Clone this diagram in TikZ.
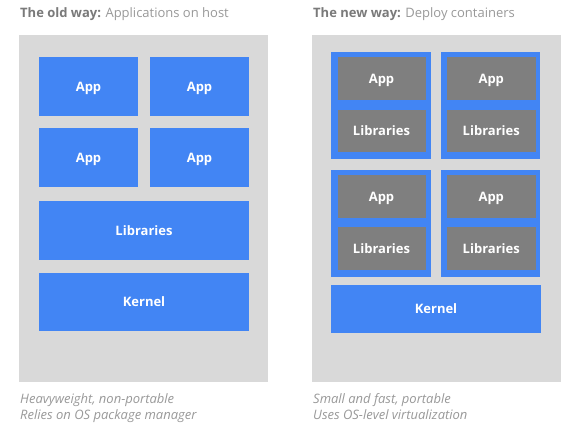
\documentclass[tikz,border=0pt]{standalone}
\usepackage{fontspec}
\setmainfont{Open Sans}
\definecolor{gblue}{HTML}{4285F4}
\definecolor{dgray}{HTML}{7F7F7F}
\definecolor{pgray}{HTML}{D9D9D9}
\definecolor{hbold}{HTML}{7A7A7A}
\definecolor{hreg}{HTML}{999999}
\definecolor{capt}{HTML}{999999}
\tikzset{
  panel/.style={fill=pgray, draw=none, inner sep=0pt},
  lbl/.style={inner sep=0pt, text=white, text height=9.3bp, text depth=0pt, font=\fontsize{13bp}{15bp}\selectfont\bfseries},
  bluebox/.style={lbl, fill=gblue, draw=none},
  graybox/.style={lbl, fill=dgray, draw=none},
  cont/.style={fill=gblue, draw=none, inner sep=0pt},
  head/.style={anchor=base west, inner sep=0pt, font=\fontsize{13bp}{15bp}\selectfont},
  capline/.style={anchor=base west, inner sep=0pt, text=capt, font=\fontsize{13bp}{15bp}\selectfont\itshape},
}
\begin{document}
\begin{tikzpicture}[x=1bp, y=-1bp]
\useasboundingbox (0,0) rectangle (575,442);
\fill[white] (0,0) rectangle (575,442);
% headers
\node[head] (hL) at (20,18) {\textcolor{hbold}{\bfseries The old way:} \textcolor{hreg}{Applications on host}};
\node[head] (hR) at (313,18) {\textcolor{hbold}{\bfseries The new way:} \textcolor{hreg}{Deploy containers}};
% left panel
\node[panel, minimum width=249bp, minimum height=347bp] (panelL) at (143.5,208.5) {};
\node[bluebox, minimum width=99bp, minimum height=59bp] (appL1) at (88.5,86.5) {App};
\node[bluebox, minimum width=99bp, minimum height=59bp] (appL2) at (199.5,86.5) {App};
\node[bluebox, minimum width=99bp, minimum height=59bp] (appL3) at (88.5,158) {App};
\node[bluebox, minimum width=99bp, minimum height=59bp] (appL4) at (199.5,158) {App};
\node[bluebox, minimum width=210bp, minimum height=59bp] (libL) at (144,230.5) {Libraries};
\node[bluebox, minimum width=210bp, minimum height=58.5bp] (kerL) at (144,302) {Kernel};
% right panel
\node[panel, minimum width=249bp, minimum height=347bp] (panelR) at (436.5,208.5) {};
\node[cont, minimum width=99.5bp, minimum height=107bp] (contA) at (380.75,106) {};
\node[cont, minimum width=99.5bp, minimum height=107bp] (contB) at (490.25,106) {};
\node[cont, minimum width=99.5bp, minimum height=107bp] (contC) at (380.75,223.5) {};
\node[cont, minimum width=99.5bp, minimum height=107bp] (contD) at (490.25,223.5) {};
\node[graybox, minimum width=88bp, minimum height=43bp] (appA) at (381.5,79) {App};
\node[graybox, minimum width=88bp, minimum height=42.5bp] (libA) at (381.5,131.25) {Libraries};
\node[graybox, minimum width=88.5bp, minimum height=43bp] (appB) at (491.25,79) {App};
\node[graybox, minimum width=88.5bp, minimum height=42.5bp] (libB) at (491.25,131.25) {Libraries};
\node[graybox, minimum width=88bp, minimum height=43bp] (appC) at (381.5,196.5) {App};
\node[graybox, minimum width=88bp, minimum height=42.5bp] (libC) at (381.5,248.75) {Libraries};
\node[graybox, minimum width=88.5bp, minimum height=43bp] (appD) at (491.25,196.5) {App};
\node[graybox, minimum width=88.5bp, minimum height=42.5bp] (libD) at (491.25,248.75) {Libraries};
\node[bluebox, minimum width=210bp, minimum height=48bp] (kerR) at (436,308.5) {Kernel};
% captions
\node[capline] (cL1) at (20,403) {Heavyweight, non-portable};
\node[capline] (cL2) at (20,419) {Relies on OS package manager};
\node[capline] (cR1) at (313,403) {Small and fast, portable};
\node[capline] (cR2) at (313,419) {Uses OS-level virtualization};
\end{tikzpicture}
\end{document}
